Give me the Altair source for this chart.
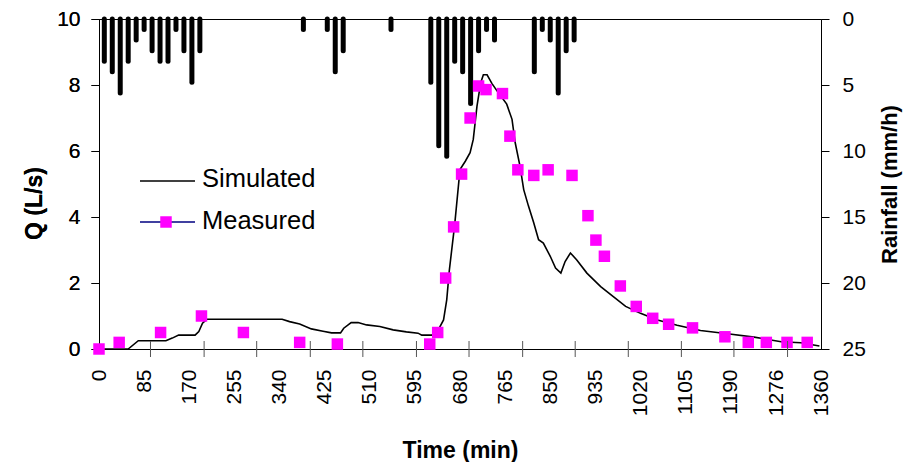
import altair as alt
import pandas as pd

# ---- data ----
rain_time = [10, 25, 40, 55, 70, 85, 100, 115, 130, 145, 160, 175, 190, 385, 430, 445, 460, 550,
             625, 640, 655, 670, 685, 700, 715, 730, 745, 820, 835, 850, 865, 880, 895]
rain_mmh = [3.2, 4.0, 5.6, 3.2, 1.6, 0.8, 2.4, 3.2, 3.2, 0.8, 2.4, 4.8, 2.4, 0.8, 0.8, 4.0, 2.4, 0.8,
            4.8, 9.6, 10.4, 3.2, 4.0, 6.4, 2.4, 0.8, 1.6, 4.0, 0.8, 1.6, 5.6, 2.4, 1.6]

meas_t = [0, 38, 116, 193, 272, 378, 449, 623, 638, 653, 668, 683, 699, 715, 729, 760, 774, 789,
          819, 846, 891, 921, 936, 952, 982, 1012, 1043, 1073, 1118, 1179, 1223, 1257, 1296, 1334]
meas_q = [0, 0.2, 0.5, 1.0, 0.5, 0.2, 0.15, 0.15, 0.5, 2.15, 3.7, 5.3, 7.0, 7.97, 7.86, 7.74, 6.45, 5.43,
          5.26, 5.43, 5.26, 4.04, 3.3, 2.81, 1.91, 1.29, 0.93, 0.75, 0.64, 0.37, 0.2, 0.2, 0.2, 0.2]

sim_t = [0, 55, 74, 126, 138, 150, 181, 188, 195, 203, 345, 359, 378, 400, 422, 438, 455, 461, 475, 488,
         504, 529, 554, 579, 601, 608, 627, 639, 649, 655, 660, 670, 680, 690, 699, 705, 712, 719, 724,
         731, 740, 752, 768, 778, 784, 793, 800, 809, 819, 828, 837, 850, 860, 870, 878, 888, 900, 919,
         945, 970, 992, 1020, 1052, 1089, 1133, 1184, 1234, 1285, 1322, 1357]
sim_q = [0, 0, 0.25, 0.25, 0.33, 0.42, 0.42, 0.53, 0.78, 0.9, 0.9, 0.83, 0.76, 0.61, 0.54, 0.49, 0.49, 0.63,
         0.8, 0.8, 0.73, 0.68, 0.58, 0.52, 0.48, 0.42, 0.42, 0.58, 0.88, 1.49, 2.4, 3.77, 5.44, 5.69, 5.95,
         6.35, 7.36, 8.07, 8.31, 8.31, 8.05, 7.77, 7.42, 6.96, 6.25, 5.54, 4.83, 4.33, 3.82, 3.31, 3.21,
         2.81, 2.45, 2.3, 2.65, 2.91, 2.7, 2.3, 1.89, 1.57, 1.29, 1.08, 0.88, 0.72, 0.56, 0.46, 0.36,
         0.22, 0.19, 0.09]

x_labels = [0, 85, 170, 255, 340, 425, 510, 595, 680, 765, 850, 935, 1020, 1105, 1190, 1276, 1360]
x_tick_marks = [97, 198, 297, 398, 497, 598, 697, 798, 897, 997, 1097, 1196, 1297]
q_ticks = [0, 2, 4, 6, 8, 10]
rain_ticks = [0, 5, 10, 15, 20, 25]

FONT = "Liberation Sans"
W, H = 722, 330

rain_df = pd.DataFrame({"t": rain_time, "r": rain_mmh, "r0": [0] * len(rain_time)})
meas_df = pd.DataFrame({"t": meas_t, "q": meas_q})
sim_df = pd.DataFrame({"t": sim_t, "q": sim_q})
tick_df = pd.DataFrame({"t": x_tick_marks})
one = pd.DataFrame({"a": [0]})

x_scale = alt.Scale(domain=[0, 1360], nice=False, zero=False)
x_axis = alt.Axis(values=x_labels, format="d", labelAngle=-90, ticks=False, grid=False, labelPadding=20,
                  labelFontSize=21, labelFont=FONT, labelColor="black", domainColor="black",
                  title="Time (min)", titleFont=FONT, titleFontSize=23, titleFontWeight="bold",
                  titlePadding=24, titleColor="black", labelFlush=False)
X = alt.X("t:Q", scale=x_scale, axis=x_axis)

q_scale = alt.Scale(domain=[0, 10], nice=False)
q_axis = alt.Axis(orient="left", values=q_ticks, grid=False, tickSize=8, tickColor="black",
                  labelPadding=11, labelFontSize=21, labelFont=FONT, labelColor="black",
                  domainColor="black", title="Q (L/s)", titleFont=FONT, titleFontSize=23,
                  titleFontWeight="bold", titlePadding=10, titleColor="black", titleY=184)

rain_scale = alt.Scale(domain=[0, 25], reverse=True, nice=False)
rain_axis = alt.Axis(orient="right", values=rain_ticks, grid=False, tickSize=8, tickColor="black",
                     labelPadding=13, labelFontSize=21, labelFont=FONT, labelColor="black",
                     domainColor="black", title="Rainfall (mm/h)", titleFont=FONT, titleFontSize=22,
                     titleFontWeight="bold", titlePadding=14, titleColor="black", titleAngle=270,
                     titleBaseline="top")

rain = alt.Chart(rain_df).mark_rule(color="black", strokeWidth=5, strokeCap="round").encode(
    x=X,
    y=alt.Y("r0:Q", scale=rain_scale, axis=rain_axis),
    y2="r:Q",
)

sim = alt.Chart(sim_df).mark_line(color="black", strokeWidth=1.6).encode(
    x=X,
    y=alt.Y("q:Q", scale=q_scale, axis=q_axis),
)

meas = alt.Chart(meas_df).mark_square(color="#FF00FF", size=132, opacity=1).encode(
    x=X,
    y=alt.Y("q:Q", scale=q_scale, axis=q_axis),
)

ticks = alt.Chart(tick_df).mark_rule(color="#555555", strokeWidth=1).encode(
    x=X,
    y=alt.value(H - 8),
    y2=alt.value(H + 8),
)

leg_sim_line = alt.Chart(one).mark_rule(color="black", strokeWidth=1.6).encode(
    x=alt.value(41), x2=alt.value(96), y=alt.value(162))
leg_meas_line = alt.Chart(one).mark_rule(color="#000080", strokeWidth=1.6).encode(
    x=alt.value(41), x2=alt.value(96), y=alt.value(203))
leg_meas_sq = alt.Chart(one).mark_square(color="#FF00FF", size=132, opacity=1).encode(
    x=alt.value(67), y=alt.value(203))
leg_sim_txt = alt.Chart(one).mark_text(align="left", baseline="middle", font=FONT, fontSize=25.5,
                                       color="black").encode(
    x=alt.value(103), y=alt.value(160), text=alt.value("Simulated"))
leg_meas_txt = alt.Chart(one).mark_text(align="left", baseline="middle", font=FONT, fontSize=25.5,
                                        color="black").encode(
    x=alt.value(103), y=alt.value(202), text=alt.value("Measured"))

chart = alt.layer(
    rain, sim, meas, ticks,
    leg_sim_line, leg_meas_line, leg_meas_sq, leg_sim_txt, leg_meas_txt,
).resolve_scale(y="independent").properties(
    width=W, height=H,
    autosize=alt.AutoSizeParams(type="none"),
    padding={"left": 91, "top": 11, "right": 83, "bottom": 113},
    background="white",
).configure_view(stroke="black", strokeWidth=1)

chart.save("out.html", embed_options={"renderer": "svg", "actions": False})
